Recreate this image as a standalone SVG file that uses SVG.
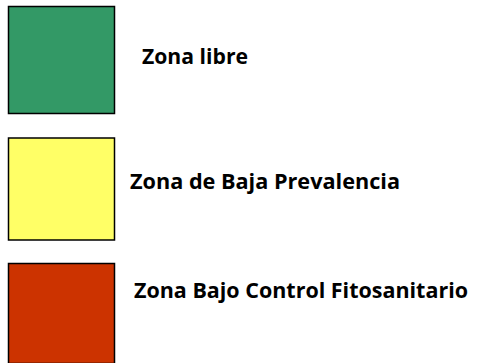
<svg xmlns="http://www.w3.org/2000/svg" width="478" height="363" viewBox="0 0 478 363">
<style>
.sw{stroke:#000;stroke-width:1.5}
.lbl{font-family:"Open Sans","Liberation Sans",sans-serif;font-weight:bold;font-size:20.5px;fill:#000}
</style>
<rect width="478" height="363" fill="#fff"/>
<g id="zona-libre">
<rect class="sw" x="8.5" y="6.5" width="106" height="107" fill="#339966"/>
<text class="lbl" x="142" y="64" textLength="106" lengthAdjust="spacingAndGlyphs">Zona libre</text>
</g>
<g id="zona-baja">
<rect class="sw" x="8.5" y="138" width="106" height="102" fill="#FFFF66"/>
<text class="lbl" x="130" y="189" textLength="270" lengthAdjust="spacingAndGlyphs">Zona de Baja Prevalencia</text>
</g>
<g id="zona-control">
<rect class="sw" x="8.5" y="263.5" width="106" height="100" fill="#CC3300"/>
<text class="lbl" x="134" y="298" textLength="334" lengthAdjust="spacingAndGlyphs">Zona Bajo Control Fitosanitario</text>
</g>
</svg>
